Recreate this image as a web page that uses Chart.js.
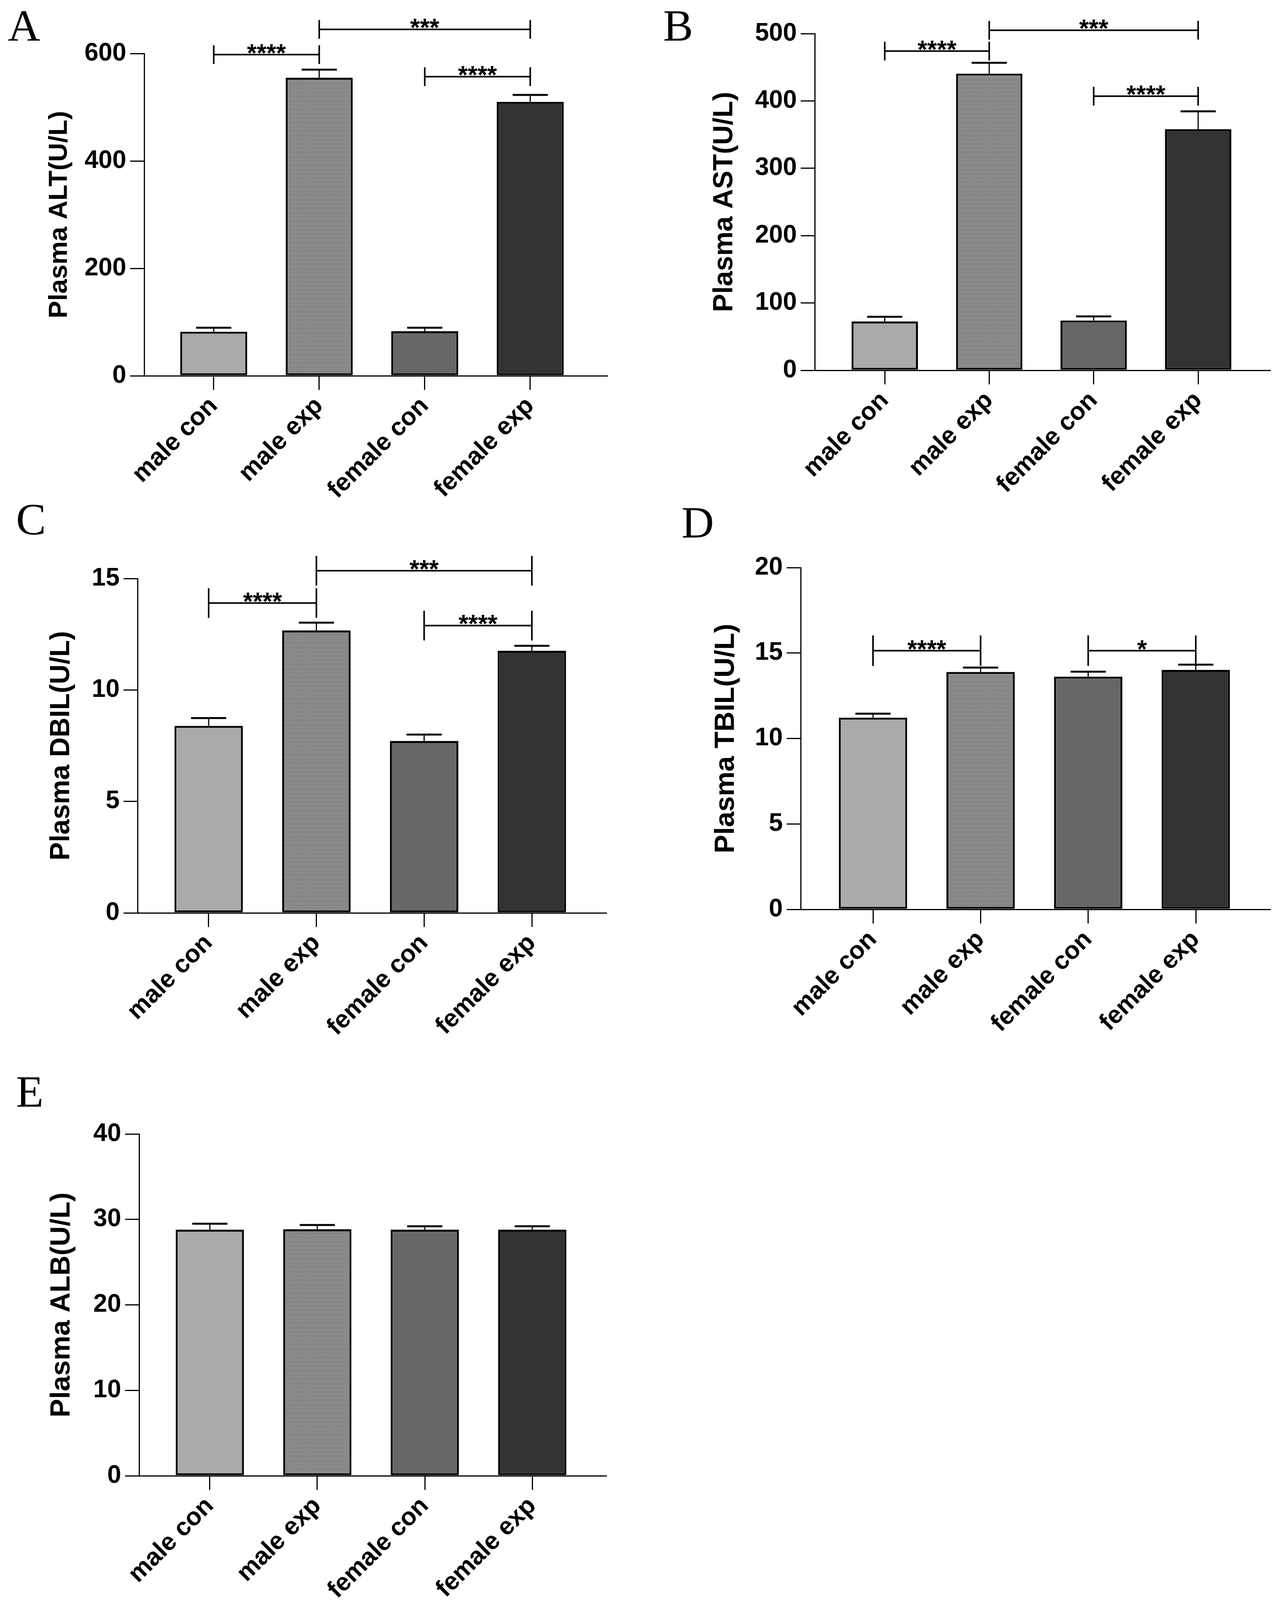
<!doctype html>
<html>
<head>
  <meta charset="utf-8">
  <script src="https://cdn.jsdelivr.net/npm/chart.js"></script>
  <style>
    body { margin: 0; background: #fff; width: 3273px; height: 4130px; position: relative; overflow: hidden; }
    canvas { position: absolute; }
    .tag { position: absolute; font-family: "Liberation Serif", "Times New Roman", serif; font-size: 115px; line-height: 115px; color: #000; }
  </style>
</head>
<body>
  <!-- panel letters -->
  <div class="tag" style="left:20px;top:8px">A</div>
  <div class="tag" style="left:1697px;top:8px">B</div>
  <div class="tag" style="left:41px;top:1272px">C</div>
  <div class="tag" style="left:1744px;top:1280px">D</div>
  <div class="tag" style="left:41px;top:2737px">E</div>

  <canvas id="chartA" width="1620" height="1300" style="left:0;top:0"></canvas>
  <canvas id="chartB" width="1623" height="1300" style="left:1650px;top:0"></canvas>
  <canvas id="chartC" width="1620" height="1400" style="left:0;top:1300px"></canvas>
  <canvas id="chartD" width="1623" height="1400" style="left:1650px;top:1300px"></canvas>
  <canvas id="chartE" width="1620" height="1430" style="left:0;top:2700px"></canvas>

  <script>
    // groups
    const groups = ['male con', 'male exp', 'female con', 'female exp'];

    // A - ALT
    const altMean = [82, 555, 83, 510];
    const altSem = [7.5, 15, 6.5, 13];
    const altSig = [[0, 1, 598, '****'], [1, 3, 645, '***'], [2, 3, 557, '****']];

    // B - AST
    const astMean = [72.5, 440.6, 74, 358];
    const astSem = [7, 16, 6, 26.5];
    const astSig = [[0, 1, 474, '****'], [1, 3, 505, '***'], [2, 3, 407, '****']];

    // C - DBIL
    const dbilMean = [8.39, 12.67, 7.71, 11.76];
    const dbilSem = [0.35, 0.35, 0.29, 0.22];
    const dbilSig = [[0, 1, 13.9, '****'], [1, 3, 15.35, '***'], [2, 3, 12.89, '****']];

    // D - TBIL
    const tbilMean = [11.22, 13.89, 13.62, 14.01];
    const tbilSem = [0.23, 0.26, 0.29, 0.31];
    const tbilSig = [[0, 1, 15.14, '****'], [2, 3, 15.14, '*']];

    // E - ALB
    const albMean = [28.8, 28.85, 28.8, 28.8];
    const albSem = [0.7, 0.5, 0.4, 0.4];
    const albSig = [];

    Chart.defaults.font.family = '"Liberation Sans", Arial, sans-serif';
    Chart.defaults.color = '#000';

    function dotted(ctx) {
      var c = document.createElement('canvas');
      c.width = 12; c.height = 11;
      var g = c.getContext('2d');
      g.fillStyle = '#8a8a8a'; g.fillRect(0, 0, 12, 11);
      g.fillStyle = '#7b7b7b'; g.fillRect(2, 4, 2, 3); g.fillRect(7, 4, 2, 3);
      return ctx.createPattern(c, 'repeat');
    }

    // error bars (upper half) and significance brackets
    var extras = {
      id: 'extras',
      afterDatasetsDraw: function (chart, args, opts) {
        var ctx = chart.ctx, x = chart.scales.x, y = chart.scales.y;
        var vals = chart.data.datasets[0].data;
        ctx.save();
        ctx.strokeStyle = '#000';
        ctx.fillStyle = '#000';
        vals.forEach(function (p, i) {
          var px = x.getPixelForValue(p.x);
          var top = y.getPixelForValue(p.y);
          var end = y.getPixelForValue(p.y + opts.sem[i]);
          ctx.lineWidth = 3;
          ctx.beginPath(); ctx.moveTo(px, top); ctx.lineTo(px, end); ctx.stroke();
          ctx.lineWidth = 5;
          ctx.beginPath(); ctx.moveTo(px - 45, end); ctx.lineTo(px + 45, end); ctx.stroke();
        });
        ctx.font = 'bold 64px "Liberation Sans", Arial, sans-serif';
        ctx.textAlign = 'center';
        ctx.textBaseline = 'alphabetic';
        opts.sig.forEach(function (s) {
          var x1 = x.getPixelForValue(s[0]), x2 = x.getPixelForValue(s[1]), py = y.getPixelForValue(s[2]);
          ctx.lineWidth = 4;
          ctx.beginPath();
          ctx.moveTo(x1, py); ctx.lineTo(x2, py);
          ctx.moveTo(x1, py - opts.tick); ctx.lineTo(x1, py + opts.tick);
          ctx.moveTo(x2, py - opts.tick); ctx.lineTo(x2, py + opts.tick);
          ctx.stroke();
          ctx.fillText(s[3], (x1 + x2) / 2, py + 18);
        });
        ctx.restore();
      }
    };

    function makePanel(id, means, sems, sig, title, yMax, yStep, L) {
      var el = document.getElementById(id);
      var ctx = el.getContext('2d');
      return new Chart(ctx, {
        type: 'bar',
        data: {
          datasets: [{
            data: means.map(function (v, i) { return { x: i, y: v }; }),
            backgroundColor: ['#aaaaaa', dotted(ctx), '#676767', '#333333'],
            borderColor: '#000',
            borderWidth: 5,
            borderSkipped: false,
            barPercentage: 0.635,
            categoryPercentage: 1
          }]
        },
        options: {
          responsive: false,
          devicePixelRatio: 1,
          animation: false,
          layout: { autoPadding: false, padding: { left: 0, top: L.top, right: L.right, bottom: 0 } },
          plugins: {
            legend: { display: false },
            tooltip: { enabled: false },
            extras: { sem: sems, sig: sig, tick: L.tick }
          },
          scales: {
            x: {
              type: 'linear',
              offset: false,
              min: L.xmin,
              max: L.xmax,
              afterBuildTicks: function (s) { s.ticks = groups.map(function (g, i) { return { value: i }; }); },
              afterFit: function (s) { s.height = L.xh; },
              ticks: {
                autoSkip: false,
                maxRotation: 45,
                minRotation: 45,
                padding: 4,
                font: { size: 64, weight: 'bold' },
                callback: function (v) { return groups[v]; }
              },
              grid: { offset: false, drawOnChartArea: false, drawTicks: true, tickLength: 36, color: '#000', lineWidth: 3 },
              border: { color: '#000', width: 3 }
            },
            y: {
              min: 0,
              max: yMax,
              afterFit: function (s) { s.width = L.yw; },
              ticks: { stepSize: yStep, padding: 10, font: { size: 64, weight: 'bold' } },
              grid: { drawOnChartArea: false, drawTicks: true, tickLength: 36, color: '#000', lineWidth: 3 },
              border: { color: '#000', width: 3 },
              title: { display: true, text: title, color: '#000', font: { size: L.ts, weight: 'bold' }, padding: { top: L.tpad, bottom: 0 } }
            }
          }
        },
        plugins: [extras]
      });
    }

    makePanel('chartA', altMean, altSem, altSig, 'Plasma ALT(U/L)', 600, 200,
      { top: 137, right: 66, yw: 369, xh: 338, xmin: -0.659, xmax: 3.73, tpad: 112, ts: 67, tick: 24 });
    makePanel('chartB', astMean, astSem, astSig, 'Plasma AST(U/L)', 500, 100,
      { top: 86, right: 23, yw: 435, xh: 352, xmin: -0.67, xmax: 3.688, tpad: 163, ts: 70, tick: 24 });
    makePanel('chartC', dbilMean, dbilSem, dbilSig, 'Plasma DBIL(U/L)', 15, 5,
      { top: 181, right: 69, yw: 352, xh: 363, xmin: -0.66, xmax: 3.689, tpad: 116, ts: 70, tick: 38 });
    makePanel('chartD', tbilMean, tbilSem, tbilSig, 'Plasma TBIL(U/L)', 20, 5,
      { top: 153, right: 23, yw: 399, xh: 372, xmin: -0.672, xmax: 3.69, tpad: 166, ts: 71, tick: 39 });
    makePanel('chartE', albMean, albSem, albSig, 'Plasma ALB(U/L)', 40, 10,
      { top: 203, right: 69, yw: 356, xh: 352, xmin: -0.658, xmax: 3.687, tpad: 116, ts: 71, tick: 24 });
  </script>
</body>
</html>
